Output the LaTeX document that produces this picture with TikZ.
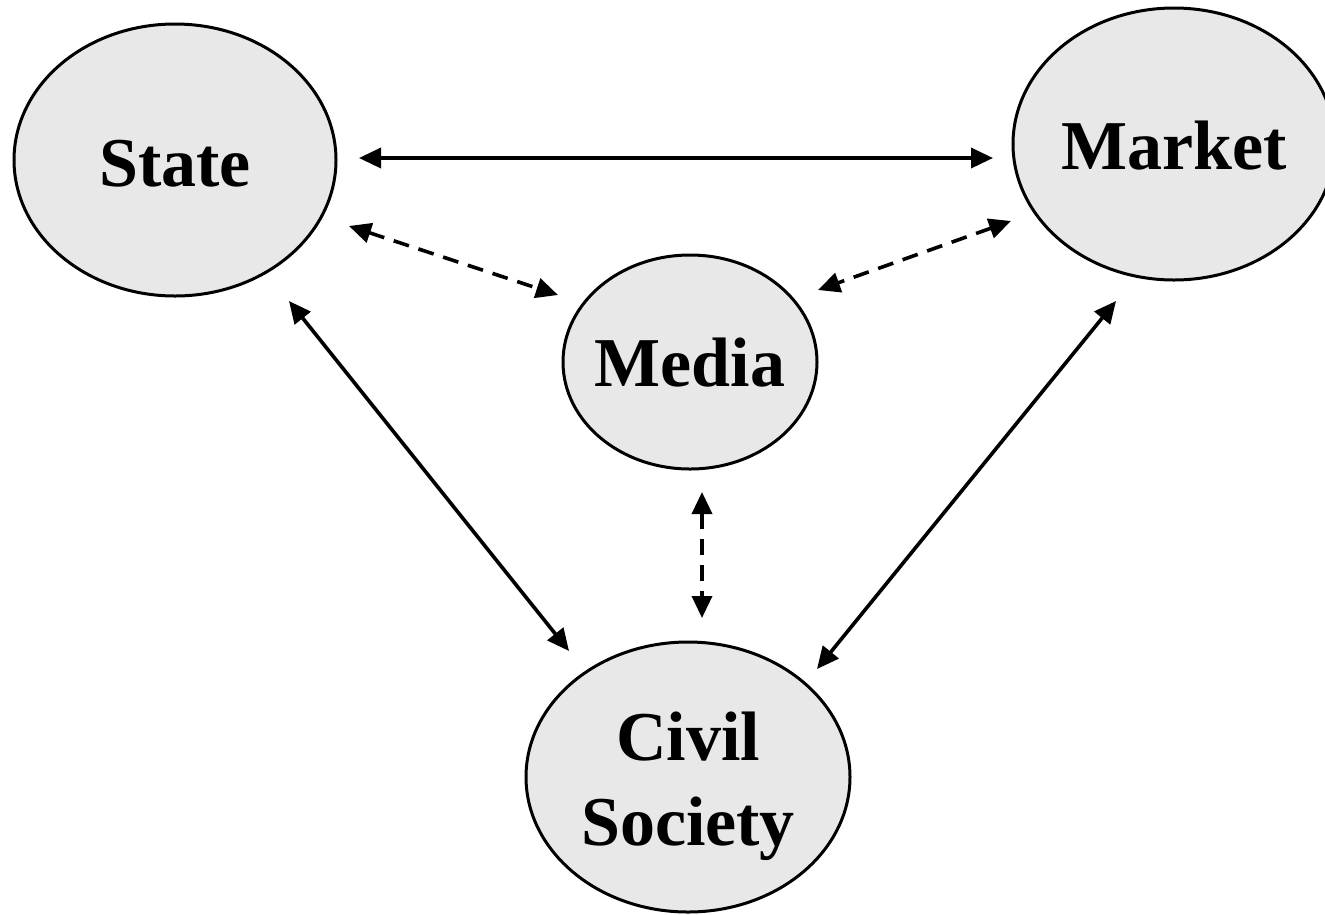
\documentclass[tikz,border=0pt]{standalone}
\usepackage{fontspec}
\setmainfont{Liberation Serif}
\usetikzlibrary{shapes.geometric,arrows.meta,calc}
\definecolor{ellfill}{RGB}{232,232,232}
\tikzset{
  actor/.style={ellipse, draw=black, line width=3pt, fill=ellfill, inner sep=0pt},
  actortext/.style={font=\fontsize{70}{85}\selectfont\bfseries, align=center},
  link/.style={line width=3.6pt, {Triangle[length=22pt,width=20pt]}-{Triangle[length=22pt,width=20pt]}},
  dlink/.style={link, dash pattern=on 16pt off 10pt},
}
\begin{document}
\begin{tikzpicture}[x=1pt,y=-1pt]
\useasboundingbox[fill=white] (0,0) rectangle (1325,914);
\node[actor, minimum width=322pt, minimum height=272pt,
  label={[actortext, yshift=-4pt]center:State}] (State) at (175,160) {};
\node[actor, minimum width=322pt, minimum height=272pt,
  label={[actortext, yshift=-2pt]center:Market}] (Market) at (1174,144) {};
\node[actor, minimum width=254pt, minimum height=214pt,
  label={[actortext, yshift=-1pt]center:Media}] (Media) at (690,362) {};
\node[actor, minimum width=324pt, minimum height=270pt,
  label={[actortext, yshift=-9pt]center:Civil\\Society}] (Civil) at (688,777) {};

\draw[link] ($(State)+(184,-2)$) -- ($(Market)+(-181,14)$);
\draw[dlink] ($(State)+(174,66)$) -- ($(Media)+(-132,-67)$);
\draw[dlink] ($(Market)+(-163,77)$) -- ($(Media)+(128,-72)$);
\draw[link] ($(State)+(114,141)$) -- ($(Civil)+(-119,-126)$);
\draw[link] ($(Market)+(-58,157)$) -- ($(Civil)+(129,-108)$);
\draw[dlink] ($(Media)+(12,130)$) -- ($(Civil)+(14,-159)$);
\end{tikzpicture}
\end{document}
